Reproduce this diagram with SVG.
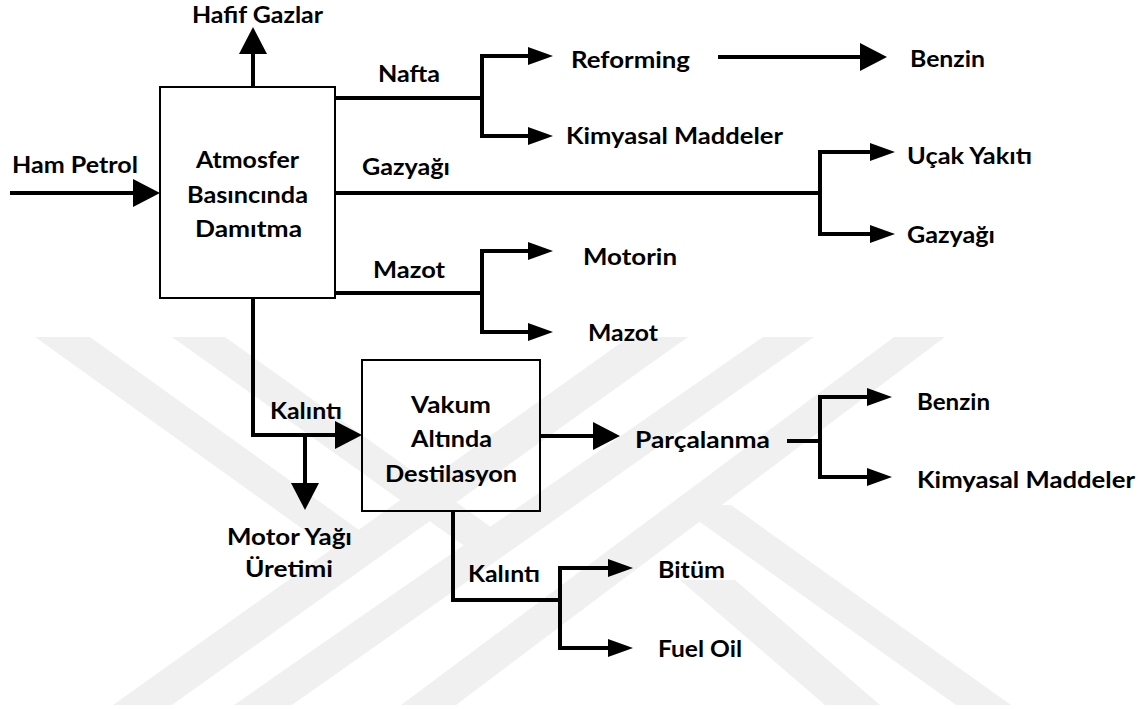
<svg xmlns="http://www.w3.org/2000/svg" width="1146" height="709" viewBox="0 0 1146 709">
  <style>
    .wm { fill: #f0f0f0; }
    .box { fill: none; stroke: #000; stroke-width: 2; }
    .ln { fill: none; stroke: #000; stroke-width: 4; stroke-linejoin: miter; stroke-linecap: butt; }
    .big { marker-end: url(#ahBig); }
    .small { marker-end: url(#ahSmall); }
    text { font-family: Lato, "Open Sans", "Liberation Sans", sans-serif; font-weight: bold; font-size: 22.5px; fill: #000; }
  </style>
  <defs>
    <marker id="ahBig" markerUnits="userSpaceOnUse" viewBox="0 0 28 28" markerWidth="28" markerHeight="28" refX="1" refY="14" orient="auto">
      <path d="M0,0 L27,14 L0,28 Z" fill="#000"/>
    </marker>
    <marker id="ahSmall" markerUnits="userSpaceOnUse" viewBox="0 0 26 18" markerWidth="26" markerHeight="18" refX="1" refY="9" orient="auto">
      <path d="M0,0 L25,9 L0,18 Z" fill="#000"/>
    </marker>
  </defs>

  <rect width="1146" height="709" fill="#fff"/>

  <!-- faint background emblem -->
  <g id="watermark">
    <polygon class="wm" points="113,705 172,705 688,337 629,337"/>
    <polygon class="wm" points="234,705 292,705 814,337 763,337"/>
    <polygon class="wm" points="401,705 456,705 945,337 894,337"/>
    <polygon class="wm" points="35,337 90,337 380,545 325,545"/>
    <polygon class="wm" points="172,337 225,337 516,545 463,545"/>
    <polygon class="wm" points="676,505 731,505 1011,705 956,705"/>
    <polygon class="wm" points="680,580 735,580 880,705 825,705"/>
  </g>

  <g id="connectors">
    <path class="ln big" d="M10,193 H134"/>
    <path class="ln big" d="M253,87 V53"/>
    <path class="ln small" d="M335,98 H482 V56 H529"/>
    <path class="ln small" d="M482,98 V136 H529"/>
    <path class="ln big" d="M718,57 H861"/>
    <path class="ln small" d="M335,193 H820 V152 H871"/>
    <path class="ln small" d="M820,193 V234 H871"/>
    <path class="ln small" d="M335,293 H482 V251 H529"/>
    <path class="ln small" d="M482,293 V332 H529"/>
    <path class="ln big" d="M253,298 V435 H336"/>
    <path class="ln big" d="M305,435 V484"/>
    <path class="ln big" d="M540,436 H594"/>
    <path class="ln small" d="M787,441 H820 V397 H868"/>
    <path class="ln small" d="M820,441 V477 H868"/>
    <path class="ln small" d="M453,511 V600 H560 V568 H609"/>
    <path class="ln small" d="M560,600 V648 H609"/>
  </g>

  <g id="atmosferik-damitma">
    <rect class="box" x="160" y="87" width="175" height="211"/>
    <text x="196" y="168" textLength="103" lengthAdjust="spacingAndGlyphs">Atmosfer</text>
    <text x="187" y="203" textLength="121" lengthAdjust="spacingAndGlyphs">Basıncında</text>
    <text x="195" y="237" textLength="107" lengthAdjust="spacingAndGlyphs">Damıtma</text>
  </g>

  <g id="vakum-destilasyon">
    <rect class="box" x="362" y="360" width="178" height="151"/>
    <text x="411" y="413" textLength="80" lengthAdjust="spacingAndGlyphs">Vakum</text>
    <text x="411" y="447" textLength="81" lengthAdjust="spacingAndGlyphs">Altında</text>
    <text x="385" y="482" textLength="132" lengthAdjust="spacingAndGlyphs">Destilasyon</text>
  </g>

  <g id="ham-petrol"><text x="12" y="173" textLength="126" lengthAdjust="spacingAndGlyphs">Ham Petrol</text></g>
  <g id="hafif-gazlar"><text x="192" y="23" textLength="131" lengthAdjust="spacingAndGlyphs">Hafif Gazlar</text></g>
  <g id="lbl-nafta"><text x="378" y="82" textLength="62" lengthAdjust="spacingAndGlyphs">Nafta</text></g>
  <g id="reforming"><text x="571" y="68" textLength="119" lengthAdjust="spacingAndGlyphs">Reforming</text></g>
  <g id="benzin-1"><text x="910" y="67" textLength="75" lengthAdjust="spacingAndGlyphs">Benzin</text></g>
  <g id="kimyasal-1"><text x="566" y="144" textLength="217" lengthAdjust="spacingAndGlyphs">Kimyasal Maddeler</text></g>
  <g id="lbl-gazyagi"><text x="362" y="175" textLength="88" lengthAdjust="spacingAndGlyphs">Gazyağı</text></g>
  <g id="ucak-yakiti"><text x="907" y="164" textLength="125" lengthAdjust="spacingAndGlyphs">Uçak Yakıtı</text></g>
  <g id="gazyagi"><text x="907" y="243" textLength="88" lengthAdjust="spacingAndGlyphs">Gazyağı</text></g>
  <g id="lbl-mazot"><text x="373" y="278" textLength="72" lengthAdjust="spacingAndGlyphs">Mazot</text></g>
  <g id="motorin"><text x="583" y="265" textLength="94" lengthAdjust="spacingAndGlyphs">Motorin</text></g>
  <g id="mazot"><text x="588" y="341" textLength="70" lengthAdjust="spacingAndGlyphs">Mazot</text></g>
  <g id="lbl-kalinti-1"><text x="270" y="419" textLength="72" lengthAdjust="spacingAndGlyphs">Kalıntı</text></g>
  <g id="motor-yagi">
    <text x="227" y="545" textLength="125" lengthAdjust="spacingAndGlyphs">Motor Yağı</text>
    <text x="245" y="577" textLength="88" lengthAdjust="spacingAndGlyphs">Üretimi</text>
  </g>
  <g id="parcalanma"><text x="635" y="448" textLength="135" lengthAdjust="spacingAndGlyphs">Parçalanma</text></g>
  <g id="benzin-2"><text x="917" y="410" textLength="73" lengthAdjust="spacingAndGlyphs">Benzin</text></g>
  <g id="kimyasal-2"><text x="917" y="488" textLength="218" lengthAdjust="spacingAndGlyphs">Kimyasal Maddeler</text></g>
  <g id="lbl-kalinti-2"><text x="468" y="582" textLength="72" lengthAdjust="spacingAndGlyphs">Kalıntı</text></g>
  <g id="bitum"><text x="658" y="578" textLength="67" lengthAdjust="spacingAndGlyphs">Bitüm</text></g>
  <g id="fuel-oil"><text x="658" y="657" textLength="84" lengthAdjust="spacingAndGlyphs">Fuel Oil</text></g>
</svg>
